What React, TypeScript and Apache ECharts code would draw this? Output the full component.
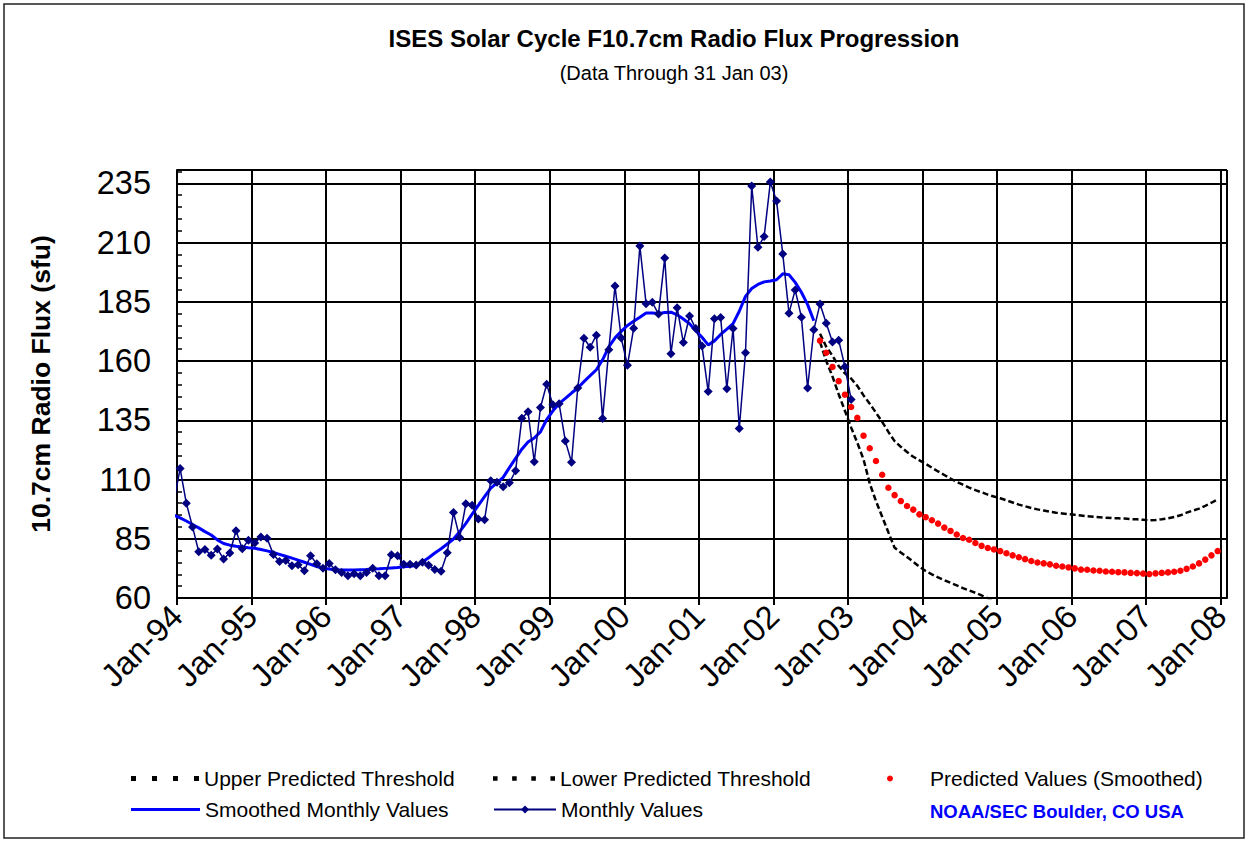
import React, { useEffect, useRef } from "react";
import * as echarts from "echarts";

const FONT = 'Arial, "Liberation Sans", sans-serif';

// x tick labels (one per January, months counted from Jan-94)
const yearLabels = [
  "Jan-94", "Jan-95", "Jan-96", "Jan-97", "Jan-98", "Jan-99", "Jan-00", "Jan-01",
  "Jan-02", "Jan-03", "Jan-04", "Jan-05", "Jan-06", "Jan-07", "Jan-08",
];

// Monthly values, starting Dec-93 (month index -1)
const monthlyStart = -1;
const monthlyValues = [
  100.7,
  114.6, 100.0, 90.0, 79.5, 80.5, 78.0, 80.7, 76.5, 79.0, 88.4, 80.8, 84.4,
  83.2, 85.7, 85.2, 78.4, 75.4, 75.8, 73.6, 74.0, 71.5, 77.8, 74.4, 72.6,
  74.6, 71.9, 70.8, 69.4, 70.2, 69.4, 70.8, 72.6, 69.4, 69.4, 78.2, 77.8,
  74.2, 74.2, 73.9, 75.1, 73.8, 72.0, 71.3, 79.1, 96.1, 85.5, 99.8, 99.1,
  93.3, 93.0, 109.5, 108.8, 106.9, 108.6, 113.7, 135.8, 138.6, 117.5, 140.4, 150.2,
  141.5, 142.0, 126.3, 117.3, 148.6, 169.6, 165.8, 170.9, 135.7, 164.8, 191.6, 169.7,
  158.2, 173.8, 208.5, 184.2, 184.8, 179.8, 203.5, 163.1, 182.5, 167.8, 179.0, 173.7,
  166.3, 147.1, 177.8, 178.4, 148.3, 173.7, 131.5, 163.5, 233.8, 208.0, 212.5, 235.5,
  227.5, 205.2, 180.2, 190.0, 178.5, 148.6, 173.2, 184.1, 175.9, 168.0, 168.8, 157.6,
  143.8,
];

// Smoothed monthly values, starting Dec-93
const smoothedStart = -1;
const smoothedValues = [
  95.0,
  93.8, 92.5, 91.0, 89.6, 88.0, 86.6, 84.5, 83.0, 82.3, 81.8, 81.5, 81.2,
  81.0, 80.5, 79.9, 79.2, 78.4, 77.6, 76.8, 76.0, 75.1, 74.2, 73.3, 72.6,
  72.2, 71.9, 71.8, 71.8, 71.8, 71.9, 72.0, 72.2, 72.3, 72.5, 72.7, 72.9,
  73.2, 73.4, 73.7, 75.2, 77.0, 79.0, 80.8, 82.8, 84.9, 88.0, 91.5, 95.4,
  99.1, 102.8, 106.4, 108.6, 110.9, 115.0, 118.9, 122.8, 125.8, 127.5, 130.1, 135.3,
  139.0, 142.0, 144.2, 146.5, 148.6, 151.3, 153.8, 156.3, 160.5, 166.0, 169.8, 172.5,
  175.0, 176.8, 178.5, 180.3, 180.3, 180.0, 180.5, 180.6, 179.5, 177.7, 175.7, 172.8,
  170.0, 166.8, 168.5, 171.2, 173.5, 175.8, 181.0, 187.3, 190.6, 192.3, 193.4, 193.8,
  194.3, 196.8, 196.4, 193.2, 189.0, 183.8, 177.0,
];

// Forecasts start Aug-02 (month index 103)
const forecastStart = 103;
const predictedValues = [
  168.6, 163.5, 157.5, 151.5, 145.8, 140.6, 136.0, 128.5, 123.2, 117.8,
  112.0, 106.5, 103.4, 100.9, 98.8, 97.3, 95.3, 94.1, 92.8, 91.4,
  89.7, 88.3, 86.8, 85.3, 84.6, 83.2, 82.0, 81.1, 80.5, 79.8,
  78.9, 78.0, 77.2, 76.4, 75.6, 75.0, 74.6, 74.2, 73.6, 73.3,
  72.9, 72.5, 72.0, 71.9, 71.6, 71.5, 71.2, 71.1, 70.9, 70.8,
  70.6, 70.5, 70.3, 70.1, 70.4, 70.6, 70.8, 71.1, 71.5, 72.3,
  73.3, 74.6, 76.2, 78.0, 79.8,
];
const upperThreshold = [
  171.5, 166.0, 162.2, 157.9, 154.8, 152.6, 149.5, 145.5, 142.0, 138.2,
  134.3, 130.1, 126.2, 123.8, 121.6, 119.6, 118.1, 116.6, 115.0, 113.4,
  111.9, 110.4, 109.0, 107.8, 106.6, 105.5, 104.6, 103.6, 102.8, 102.1,
  101.2, 100.3, 99.4, 98.7, 98.0, 97.4, 96.9, 96.4, 96.0, 95.7,
  95.4, 95.1, 94.8, 94.5, 94.3, 94.1, 93.9, 93.7, 93.6, 93.5,
  93.3, 93.2, 93.0, 92.8, 92.9, 93.2, 93.6, 94.2, 94.9, 96.0,
  96.9, 97.7, 98.9, 100.2, 101.6,
];
const lowerThreshold = [
  168.0, 160.0, 153.5, 146.0, 139.0, 132.0, 125.5, 118.5, 108.3, 100.9,
  94.3, 87.7, 81.2, 79.2, 77.3, 75.3, 73.2, 71.4, 70.0, 68.7,
  67.5, 66.4, 65.3, 64.2, 63.2, 62.2, 61.1, 59.9, 58.8,
];

const toPoints = (start: number, vals: number[]) =>
  vals.map((v, i) => [start + i + 0.5, v]);

const DOTS_ICON = "path://M0,0h5v5h-5zM21,0h5v5h-5zM42,0h5v5h-5zM63,0h5v5h-5z";
const BAR_ICON = "path://M0,0h70v3h-70z";

export default function App() {
  const ref = useRef<HTMLDivElement>(null);

  useEffect(() => {
    if (!ref.current) return;
    const chart = echarts.init(ref.current, undefined, { renderer: "svg" });

    const monthlyData = toPoints(monthlyStart, monthlyValues).map((p, i) =>
      i === 0 ? { value: p, symbol: "none" } : { value: p }
    );

    const legendBase = {
      orient: "horizontal",
      padding: 0,
      selectedMode: false,
      itemHeight: 10,
      textStyle: { fontFamily: FONT, fontSize: 21, color: "#000" },
    };

    const option: any = {
      animation: false,
      backgroundColor: "#fff",
      title: [
        {
          text: "ISES Solar Cycle F10.7cm Radio Flux Progression",
          left: 674,
          top: 26,
          textAlign: "center",
          padding: 0,
          textStyle: { fontFamily: FONT, fontSize: 24, fontWeight: "bold", color: "#000" },
        },
        {
          text: "(Data Through 31 Jan 03)",
          left: 674,
          top: 63,
          textAlign: "center",
          padding: 0,
          textStyle: { fontFamily: FONT, fontSize: 20, fontWeight: "normal", color: "#000" },
        },
      ],
      grid: { left: 177, right: 22, top: 170, bottom: 244, outerBoundsMode: "none" },
      xAxis: {
        type: "value",
        min: 0,
        max: 169,
        interval: 12,
        axisLine: { show: true, lineStyle: { color: "#000", width: 2 } },
        axisTick: { show: true, length: 7, lineStyle: { color: "#000", width: 2 } },
        axisLabel: {
          rotate: 45,
          margin: 13,
          fontFamily: FONT,
          fontSize: 32.5,
          color: "#000",
          showMaxLabel: false,
          formatter: (v: number) => (v % 12 === 0 ? yearLabels[v / 12] : ""),
        },
        splitLine: { show: true, lineStyle: { color: "#000", width: 2 } },
      },
      yAxis: {
        type: "value",
        min: 60,
        max: 240.6,
        interval: 25,
        name: "10.7cm Radio Flux (sfu)",
        nameLocation: "middle",
        nameRotate: 90,
        nameGap: 123,
        nameTextStyle: { fontFamily: FONT, fontSize: 26.5, fontWeight: "bold", color: "#000" },
        axisLine: { show: true, lineStyle: { color: "#000", width: 2 } },
        axisTick: { show: true, inside: true, length: 5, lineStyle: { color: "#000", width: 1.5 } },
        minorTick: { show: true, splitNumber: 5, length: 5, lineStyle: { color: "#000", width: 1.5 } },
        axisLabel: {
          margin: 26,
          fontFamily: FONT,
          fontSize: 32.5,
          color: "#000",
          showMaxLabel: false,
        },
        splitLine: { show: true, lineStyle: { color: "#000", width: 2 } },
      },
      legend: [
        { ...legendBase, data: ["Upper Predicted Threshold"], left: 131, top: 768,
          icon: DOTS_ICON, itemWidth: 68, itemHeight: 5 },
        { ...legendBase, data: ["Lower Predicted Threshold"], left: 493, top: 768,
          icon: DOTS_ICON, itemWidth: 62, itemHeight: 5 },
        { ...legendBase, data: ["Predicted Values (Smoothed)"], left: 887, top: 768,
          icon: "circle", itemWidth: 6, itemHeight: 6,
          textStyle: { fontFamily: FONT, fontSize: 21, color: "#000", padding: [0, 0, 0, 32] } },
        { ...legendBase, data: ["Smoothed Monthly Values"], left: 131, top: 799,
          icon: BAR_ICON, itemWidth: 69, itemHeight: 3 },
        { ...legendBase, data: ["Monthly Values"], left: 493, top: 799, itemWidth: 62 },
      ],
      graphic: [
        {
          type: "rect",
          shape: { x: 4, y: 4, width: 1240, height: 834 },
          style: { fill: "none", stroke: "#222", lineWidth: 1.5 },
          silent: true,
        },
        {
          type: "text",
          x: 930,
          y: 811,
          style: {
            text: "NOAA/SEC Boulder, CO USA",
            fill: "#0000FF",
            font: `bold 18.5px ${FONT}`,
            textAlign: "left",
            textVerticalAlign: "middle",
          },
          silent: true,
        },
      ],
      series: [
        {
          name: "Upper Predicted Threshold",
          type: "line",
          data: toPoints(forecastStart, upperThreshold),
          symbol: "none",
          lineStyle: { color: "#000", width: 2.5, type: [6, 3] },
          itemStyle: { color: "#000" },
          z: 3,
        },
        {
          name: "Lower Predicted Threshold",
          type: "line",
          data: toPoints(forecastStart, lowerThreshold),
          symbol: "none",
          lineStyle: { color: "#000", width: 2.5, type: [6, 3] },
          itemStyle: { color: "#000" },
          z: 3,
        },
        {
          name: "Predicted Values (Smoothed)",
          type: "scatter",
          data: toPoints(forecastStart, predictedValues),
          symbol: "circle",
          symbolSize: 6.5,
          itemStyle: { color: "#FF0000", opacity: 1 },
          z: 4,
        },
        {
          name: "Smoothed Monthly Values",
          type: "line",
          data: toPoints(smoothedStart, smoothedValues),
          symbol: "none",
          clip: false,
          lineStyle: { color: "#0000FF", width: 3 },
          itemStyle: { color: "#0000FF" },
          z: 5,
        },
        {
          name: "Monthly Values",
          type: "line",
          data: monthlyData,
          symbol: "diamond",
          symbolSize: 9,
          showAllSymbol: true,
          clip: false,
          lineStyle: { color: "#000080", width: 1.5 },
          itemStyle: { color: "#000080" },
          z: 6,
        },
      ],
    };

    chart.setOption(option);
    return () => chart.dispose();
  }, []);

  return (
    <div
      ref={ref}
      style={{ position: "fixed", left: 0, top: 0, width: 1249, height: 842, background: "#fff" }}
    />
  );
}
